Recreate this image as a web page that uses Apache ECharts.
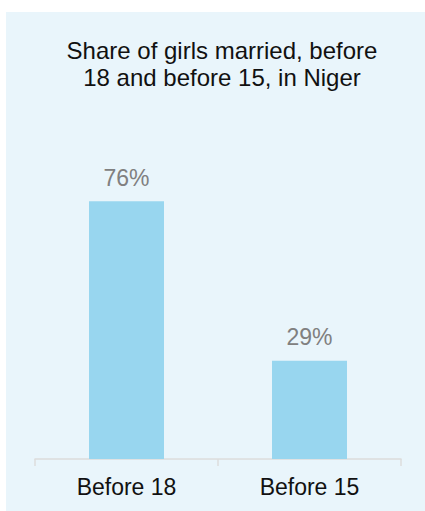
<!DOCTYPE html>
<html>
<head>
<meta charset="utf-8">
<script src="https://cdn.jsdelivr.net/npm/echarts@6/dist/echarts.min.js"></script>
<style>
  html, body { margin: 0; padding: 0; background: #ffffff; }
  #chart { width: 425px; height: 511px; }
</style>
</head>
<body>
<div id="chart"></div>
<script>
// 数据
var categories = ['Before 18', 'Before 15'];
var shares = [76, 29];

var myChart = echarts.init(document.getElementById('chart'), null, {renderer: 'svg'});

myChart.setOption({
    backgroundColor: '#ffffff',
    textStyle: {fontFamily: 'Liberation Sans, Arial, sans-serif'},
    // 浅蓝底板
    graphic: [{
        type: 'rect',
        z: -10,
        silent: true,
        shape: {x: 6, y: 12, width: 419, height: 499},
        style: {fill: '#e9f5fb'}
    }],
    title: {
        text: 'Share of girls married, before\n18 and before 15, in Niger',
        left: 217,
        top: 32,
        textAlign: 'center',
        textStyle: {
            fontSize: 24,
            fontWeight: 'normal',
            color: '#111111',
            lineHeight: 27
        }
    },
    grid: {left: 35, right: 24, top: 120, bottom: 52},
    xAxis: {
        type: 'category',
        data: categories,
        axisLine: {lineStyle: {color: '#dcdcdc', width: 1.5}},
        axisTick: {show: true, length: 7, lineStyle: {color: '#dcdcdc', width: 1.5}},
        axisLabel: {fontSize: 23, color: '#111111', margin: 16}
    },
    yAxis: {
        type: 'value',
        min: 0,
        max: 100,
        show: false,
        splitLine: {show: false}
    },
    series: [{
        type: 'bar',
        data: shares,
        barWidth: 75,
        itemStyle: {color: '#98d6ef'},
        label: {
            show: true,
            position: 'top',
            distance: 12,
            fontSize: 23,
            color: '#808080',
            formatter: '{c}%'
        }
    }]
});
</script>
</body>
</html>
